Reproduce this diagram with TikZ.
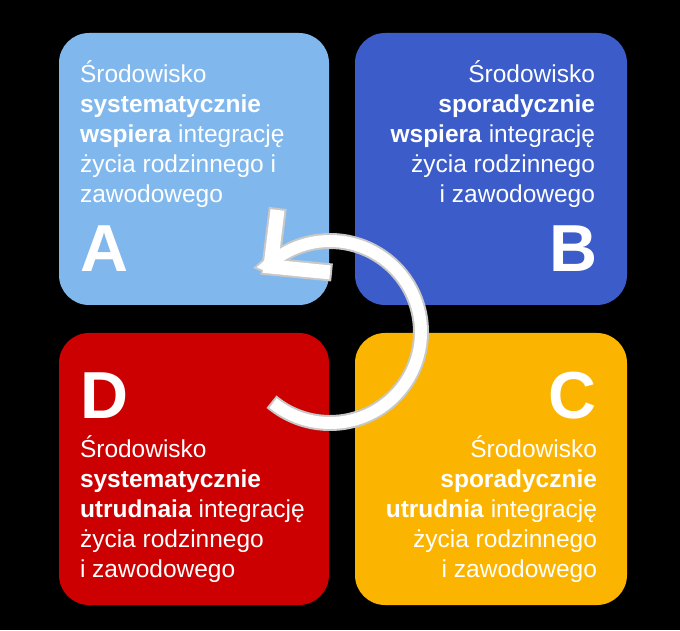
\documentclass[tikz,border=0pt]{standalone}
\usepackage{fontspec}
\setmainfont{Liberation Sans}
\definecolor{colA}{HTML}{80B8EE}
\definecolor{colB}{HTML}{3B5CC9}
\definecolor{colC}{HTML}{FBB400}
\definecolor{colD}{HTML}{CC0000}
\definecolor{arrgray}{HTML}{C8C8C8}
\begin{document}
\begin{tikzpicture}[x=1pt,y=1pt,
  panel/.style={rounded corners=30pt},
  txt/.style={text=white,font=\fontsize{24.5}{30}\selectfont,inner sep=0pt,outer sep=0pt},
  big/.style={text=white,font=\fontsize{66.5}{70}\selectfont\bfseries,inner sep=0pt,outer sep=0pt},
  arcout/.style={draw=arrgray,line width=16pt,line cap=butt},
  arcin/.style={draw=white,line width=12pt,line cap=butt},
  headout/.style={draw=arrgray,line width=18pt,line join=miter,line cap=butt},
  headin/.style={draw=white,line width=14pt,line join=miter,line cap=butt}]
\fill[black] (0,0) rectangle (680,630);
\useasboundingbox (0,0) rectangle (680,630);
% panels
\fill[colA,panel] (59,325) rectangle (329,597);
\fill[colB,panel] (355,325) rectangle (627,597);
\fill[colD,panel] (59,25) rectangle (329,297);
\fill[colC,panel] (355,25) rectangle (627,297);
% A
\node[txt,anchor=base west] (a1) at (80,547) {Środowisko};
\node[txt,anchor=base west] (a2) at (80,517) {\textbf{systematycznie}};
\node[txt,anchor=base west] (a3) at (80,487) {\textbf{wspiera} integrację};
\node[txt,anchor=base west] (a4) at (80,457) {życia rodzinnego i};
\node[txt,anchor=base west] (a5) at (80,427) {zawodowego};
\node[big,anchor=base west] (aL) at (80,358) {A};
% B
\node[txt,anchor=base east] (b1) at (595,547) {Środowisko};
\node[txt,anchor=base east] (b2) at (595,517) {\textbf{sporadycznie}};
\node[txt,anchor=base east] (b3) at (595,487) {\textbf{wspiera} integrację};
\node[txt,anchor=base east] (b4) at (595,457) {życia rodzinnego};
\node[txt,anchor=base east] (b5) at (595,427) {i zawodowego};
\node[big,anchor=base east] (bL) at (597.5,358) {B};
% D
\node[big,anchor=base west] (dL) at (80,212) {D};
\node[txt,anchor=base west] (d1) at (80,173) {Środowisko};
\node[txt,anchor=base west] (d2) at (80,143) {\textbf{systematycznie}};
\node[txt,anchor=base west] (d3) at (80,113) {\textbf{utrudnaia} integrację};
\node[txt,anchor=base west] (d4) at (80,83) {życia rodzinnego};
\node[txt,anchor=base west] (d5) at (80,53) {i zawodowego};
% C
\node[big,anchor=base east] (cL) at (597,212) {C};
\node[txt,anchor=base east] (c1) at (597,173) {Środowisko};
\node[txt,anchor=base east] (c2) at (597,143) {\textbf{sporadycznie}};
\node[txt,anchor=base east] (c3) at (597,113) {\textbf{utrudnia} integrację};
\node[txt,anchor=base east] (c4) at (597,83) {życia rodzinnego};
\node[txt,anchor=base east] (c5) at (597,53) {i zawodowego};
% circular arrow
\coordinate (ctr) at (330,298);
\coordinate (vtx) at (270.5,363.5);
\coordinate (armAo) at (277.8,422);
\coordinate (armBo) at (332,357.5);
\coordinate (armAi) at (277.5,420);
\coordinate (armBi) at (330,357.6);
\draw[arcout] (ctr) ++(230:91) arc[start angle=230,end angle=493,radius=91] -- (vtx);
\draw[headout] (armAo) -- (vtx) -- (armBo);
\draw[arcin] (ctr) ++(231.3:91) arc[start angle=231.3,end angle=493,radius=91] -- (vtx);
\draw[headin] (armAi) -- (vtx) -- (armBi);
\end{tikzpicture}
\end{document}
